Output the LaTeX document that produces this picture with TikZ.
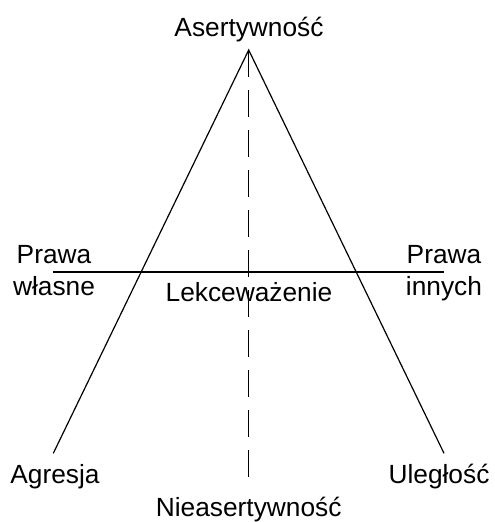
\documentclass[tikz,border=0pt]{standalone}
\usepackage{fontspec}
\setmainfont{Liberation Sans}
\begin{document}
\begin{tikzpicture}[x=1pt,y=-1pt,
  lbl/.style={anchor=base,inner sep=0pt,font=\fontsize{26.3}{30}\selectfont},
  ln/.style={line width=1.2pt,black},
  dashln/.style={line width=1.2pt,black,dash pattern=on 26.7pt off 13.3pt}]
\useasboundingbox[fill=white] (0,0) rectangle (495,522);
\coordinate (apex) at (248.7,50);
\coordinate (bl) at (53.3,453.3);
\coordinate (br) at (444,453.3);
\coordinate (hl) at (53,272);
\coordinate (hr) at (444,272);
\coordinate (vb) at (248.7,478);
\draw[ln] (bl) -- (apex) -- (br);
\draw[ln] (hl) -- (hr);
\draw[dashln] (apex) -- (vb);
\node[lbl] (aser) at (249,36.7) {Asertywność};
\node[lbl] (prL1) at (54,263.3) {Prawa};
\node[lbl] (prL2) at (54,295) {własne};
\node[lbl] (prR1) at (444,263.3) {Prawa};
\node[lbl] (prR2) at (444,295) {innych};
\node[lbl] (lekc) at (249,301.5) {Lekceważenie};
\node[lbl] (agr) at (55,483.3) {Agresja};
\node[lbl] (ule) at (439,483.3) {Uległość};
\node[lbl] (niea) at (248.7,516) {Nieasertywność};
\end{tikzpicture}
\end{document}
